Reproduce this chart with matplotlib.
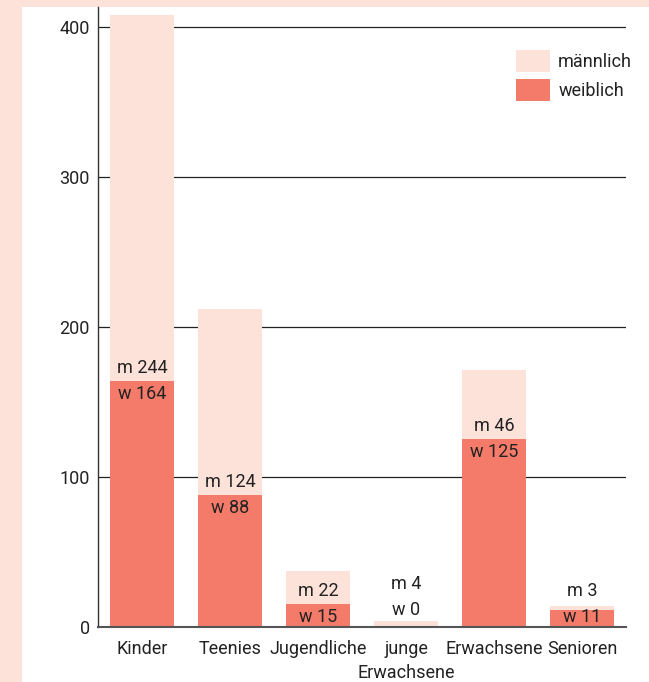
import numpy as np
import matplotlib
matplotlib.use("Agg")
from matplotlib import pyplot as plt
from matplotlib.patches import Rectangle

categories = ["Kinder", "Teenies", "Jugendliche", "junge\nErwachsene", "Erwachsene", "Senioren"]
weiblich = [164, 88, 15, 0, 125, 11]
maennlich = [244, 124, 22, 4, 46, 3]
y_ticks = [0, 100, 200, 300, 400]

pink = "#fde2da"
salmon = "#f47b6a"
text_col = "#222222"
fs = 13

plt.rcParams["font.family"] = ["Roboto", "DejaVu Sans"]

fig = plt.figure(figsize=(6.49, 6.82), dpi=100, facecolor=pink)
# white panel behind the axes
fig.patches.append(Rectangle((22 / 649, 0), 1 - 22 / 649, 1 - 7 / 682,
                             transform=fig.transFigure, facecolor="white",
                             edgecolor="none", zorder=-10))

ax = fig.add_axes([98 / 649, 55 / 682, (626 - 98) / 649, (675 - 55) / 682])
ax.set_facecolor("none")
ax.set_zorder(1)

x = np.arange(len(categories))
w = np.array(weiblich)
m = np.array(maennlich)
ax.bar(x, w, width=0.727, color=salmon, zorder=2, label="weiblich")
ax.bar(x, m, bottom=w, width=0.727, color=pink, zorder=2, label="männlich")

ax.set_xlim(-0.5, len(categories) - 0.5)
ax.set_ylim(0, 413.3)
ax.set_yticks(y_ticks)
ax.set_xticks(x)
ax.set_xticklabels(categories, fontsize=fs, color=text_col, linespacing=1.45)
ax.tick_params(axis="y", length=0, labelsize=fs, labelcolor=text_col, pad=6)
ax.tick_params(axis="x", length=0, pad=9)
ax.yaxis.grid(True, color="#222222", linewidth=0.9, zorder=1)
ax.set_axisbelow(True)
for s in ["top", "right"]:
    ax.spines[s].set_visible(False)
ax.spines["left"].set_color("#333333")
ax.spines["left"].set_linewidth(1.0)
ax.spines["bottom"].set_color("#555555")
ax.spines["bottom"].set_linewidth(1.5)
ax.spines["bottom"].set_zorder(3)

# labels, placed in pixel offsets relative to the bars
px = ax.transData.transform((0, 100))[1] - ax.transData.transform((0, 0))[1]
upp = 100 / px  # data units per pixel
for i in range(len(categories)):
    if w[i] == 0:
        wy = w[i] + m[i] + 11 * upp
    else:
        wy = max(w[i] - 13 * upp, 10 * upp)
    my = wy + 26 * upp
    ax.text(x[i], wy, f"w {w[i]}", ha="center", va="center", fontsize=fs,
            color=text_col, zorder=4)
    ax.text(x[i], my, f"m {m[i]}", ha="center", va="center", fontsize=fs,
            color=text_col, zorder=4)

handles, labels = ax.get_legend_handles_labels()
leg = ax.legend(handles[::-1], labels[::-1], loc="upper left",
                bbox_to_anchor=(0.792, 0.93), frameon=False, fontsize=fs,
                handlelength=1.88, handleheight=1.5, handletextpad=0.45,
                labelspacing=0.35, borderpad=0, borderaxespad=0)
for t in leg.get_texts():
    t.set_color(text_col)

fig.savefig("out.png", dpi=100, facecolor=pink)
